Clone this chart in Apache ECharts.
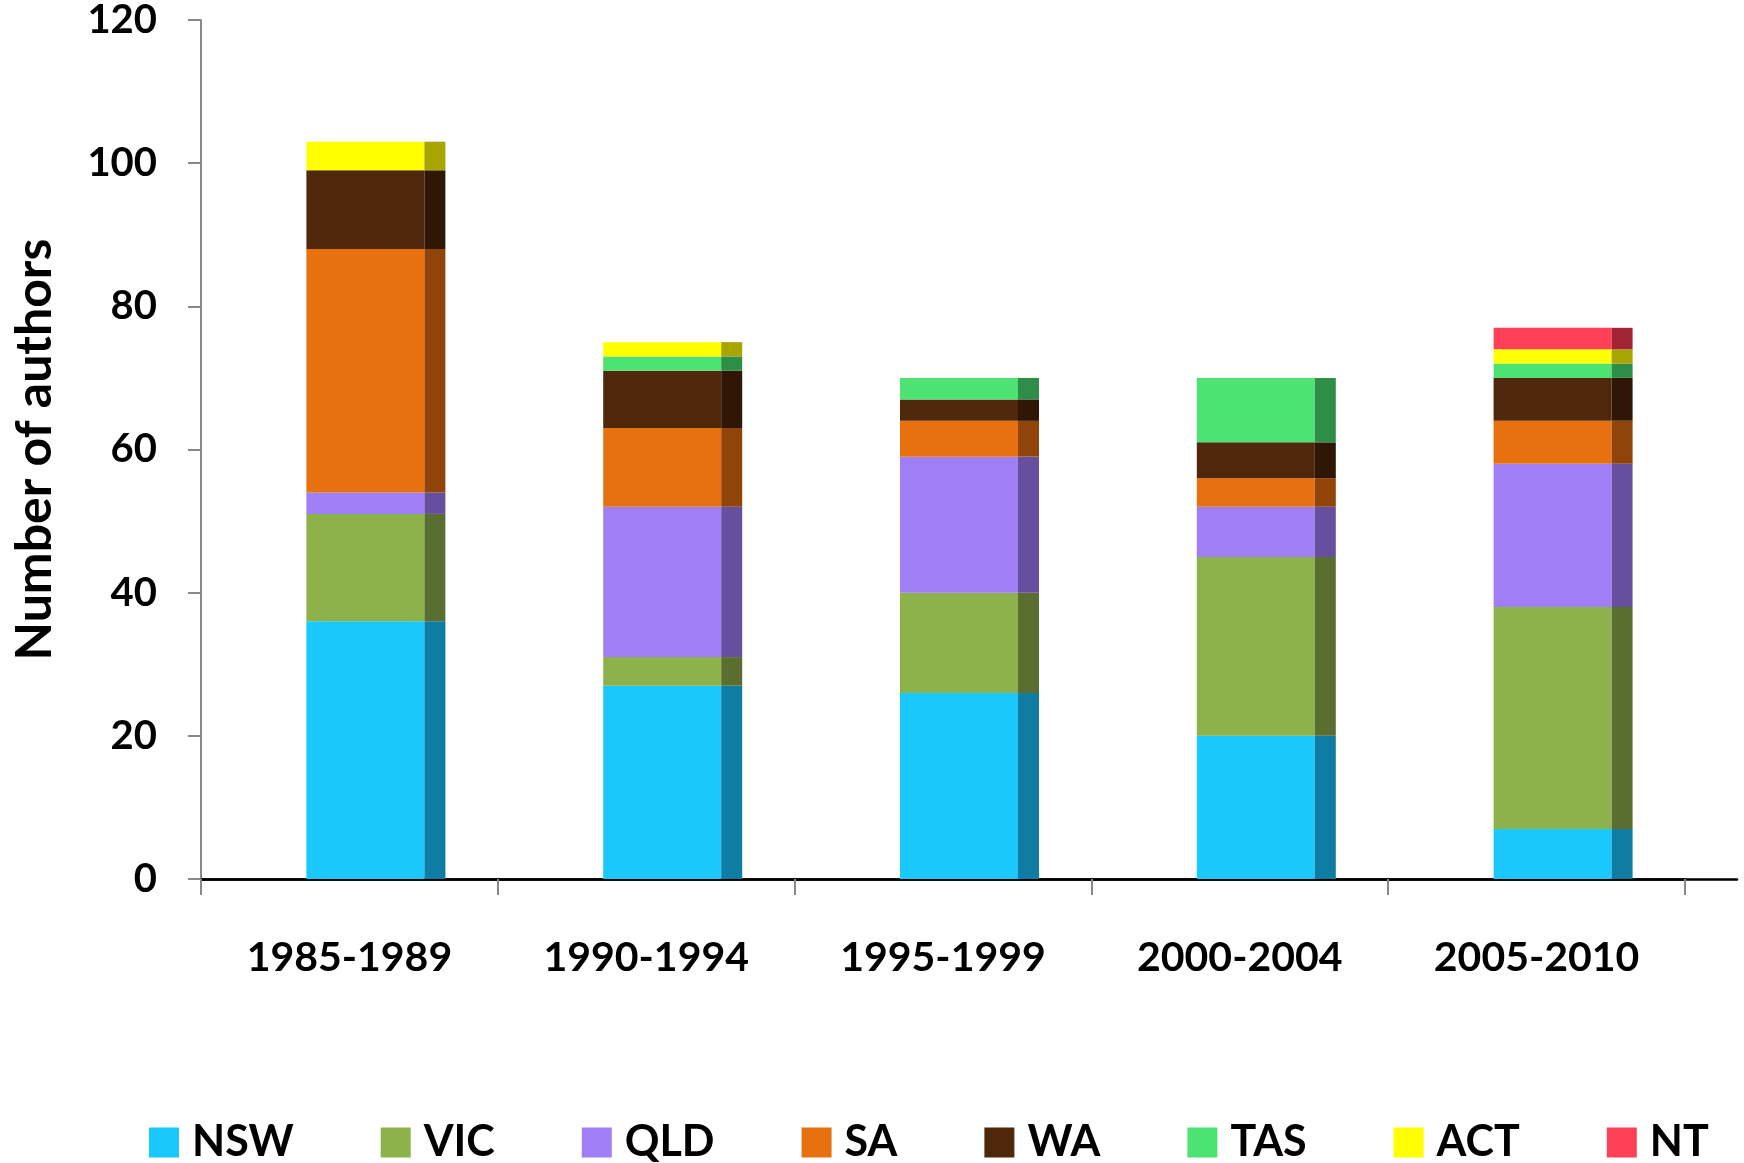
<!DOCTYPE html>
<html>
<head>
<meta charset="utf-8">
<script src="https://cdn.jsdelivr.net/npm/echarts@6/dist/echarts.min.js"></script>
<style>
html,body{margin:0;padding:0;background:#fff;}
#chart{width:1744px;height:1163px;}
</style>
</head>
<body>
<div id="chart"></div>
<script>
// ---- data ----
const categories = ['1985-1989', '1990-1994', '1995-1999', '2000-2004', '2005-2010'];
const states = ['NSW', 'VIC', 'QLD', 'SA', 'WA', 'TAS', 'ACT', 'NT'];
const NSW = [36, 27, 26, 20, 7];
const VIC = [15, 4, 14, 25, 31];
const QLD = [3, 21, 19, 7, 20];
const SA  = [34, 11, 5, 4, 6];
const WA  = [11, 8, 3, 5, 6];
const TAS = [0, 2, 3, 9, 2];
const ACT = [4, 2, 0, 0, 2];
const NT  = [0, 0, 0, 0, 3];
const yTicks = [0, 20, 40, 60, 80, 100, 120];
const seriesValues = [NSW, VIC, QLD, SA, WA, TAS, ACT, NT];

// ---- styles ----
const frontColors = ['#1BC8FE', '#8EB24B', '#A07EF5', '#E8710F', '#4F270A', '#4DE373', '#FFFF00', '#FF4056'];
const sideColors  = ['#0F7CA3', '#5A6E2F', '#674F9F', '#914409', '#301705', '#2E8E47', '#A8A400', '#A22434'];
const FONT = 'Lato';

const series = [];
// invisible spacer stack to shift the bars right of the category centre
series.push({
  name: '_spacer', type: 'bar', stack: 'spacer', barWidth: 53, barGap: '0%',
  data: categories.map(() => 0), itemStyle: {color: 'rgba(0,0,0,0)'}, silent: true
});
states.forEach((s, i) => {
  series.push({
    name: s, type: 'bar', stack: 'front', barWidth: 118, barGap: '0%',
    data: seriesValues[i], itemStyle: {color: frontColors[i]}
  });
});
states.forEach((s, i) => {
  series.push({
    name: s, type: 'bar', stack: 'side', barWidth: 21, barGap: '0%',
    data: seriesValues[i], itemStyle: {color: sideColors[i]}
  });
});

const chart = echarts.init(document.getElementById('chart'), null, {renderer: 'canvas'});
chart.setOption({
  animation: false,
  backgroundColor: '#ffffff',
  grid: [
    {left: 201, right: 59, top: 19, bottom: 284},
    {left: 201, right: 7, top: 19, bottom: 284}
  ],
  legend: {
    data: states,
    left: 144,
    top: 1116,
    itemWidth: 30,
    itemHeight: 30,
    itemGap: 87,
    icon: 'rect',
    textStyle: {fontFamily: FONT, fontWeight: 'bold', fontSize: 43, color: '#000', padding: [0, 0, 0, 8]}
  },
  xAxis: [
    {
      type: 'category', data: categories, gridIndex: 0,
      axisLine: {lineStyle: {color: '#000', width: 2.5}},
      axisTick: {show: true, length: 16, lineStyle: {color: '#888', width: 2}},
      axisLabel: {fontFamily: FONT, fontWeight: 'bold', fontSize: 41, color: '#000', margin: 58}
    },
    {
      type: 'value', gridIndex: 1, position: 'bottom',
      axisLine: {show: true, onZero: false, lineStyle: {color: '#000', width: 2.5}},
      axisTick: {show: false}, axisLabel: {show: false}, splitLine: {show: false}
    }
  ],
  yAxis: [
    {
      type: 'value', gridIndex: 0, min: yTicks[0], max: yTicks[yTicks.length - 1], interval: 20,
      name: 'Number of authors', nameLocation: 'middle', nameGap: 141, nameRotate: 90,
      nameTextStyle: {fontFamily: FONT, fontWeight: 'bold', fontSize: 50, color: '#000'},
      axisLine: {show: true, lineStyle: {color: '#888', width: 2}},
      axisTick: {show: true, length: 13, lineStyle: {color: '#888', width: 2}},
      axisLabel: {fontFamily: FONT, fontWeight: 'bold', fontSize: 40, color: '#000', margin: 44},
      splitLine: {show: false}
    },
    {
      type: 'value', gridIndex: 1, show: false
    }
  ],
  series: series
});
</script>
</body>
</html>
